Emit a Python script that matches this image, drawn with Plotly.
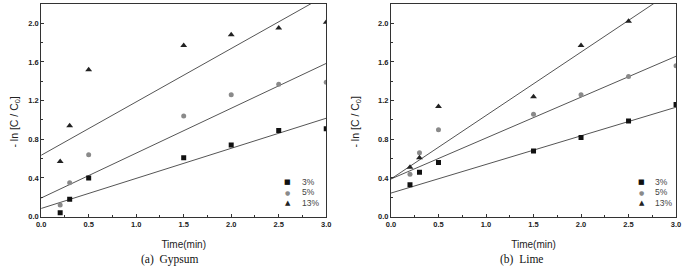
import plotly.graph_objects as go
import numpy as np

W, H = 685, 274

# ---------------- data ----------------
time_min = [0.2, 0.3, 0.5, 1.5, 2.0, 2.5, 3.0]

gyp_3 = [0.04, 0.18, 0.40, 0.61, 0.74, 0.89, 0.91]
gyp_5 = [0.12, 0.35, 0.64, 1.04, 1.26, 1.37, 1.39]
gyp_13 = [0.57, 0.94, 1.52, 1.77, 1.88, 1.95, 2.01]

lime_time_13 = [0.2, 0.3, 0.5, 1.5, 2.0, 2.5]
lime_3 = [0.33, 0.46, 0.56, 0.68, 0.82, 0.99, 1.16]
lime_5 = [0.44, 0.66, 0.90, 1.06, 1.26, 1.45, 1.56]
lime_13 = [0.51, 0.61, 1.14, 1.24, 1.77, 2.02]

# fitted lines: (intercept, slope)
gyp_fit = {"3%": (0.085, 0.311), "5%": (0.193, 0.464), "13%": (0.635, 0.552)}
lime_fit = {"3%": (0.244, 0.296), "5%": (0.39, 0.423), "13%": (0.39, 0.656)}

series_names = ["3%", "5%", "13%"]
x_ticks = [0.0, 0.5, 1.0, 1.5, 2.0, 2.5, 3.0]
y_ticks = [0.0, 0.4, 0.8, 1.2, 1.6, 2.0]
panel_captions = ["(a)  Gypsum", "(b)  Lime"]

# ---------------- style ----------------
marker_style = {
    "3%": dict(symbol="square", size=5, color="#111111"),
    "5%": dict(symbol="circle", size=5, color="#8a8a8a"),
    "13%": dict(symbol="triangle-up", size=6, color="#222222"),
}
glyph = {"3%": ("■", "#111111", 7), "5%": ("●", "#8a8a8a", 6), "13%": ("▲", "#222222", 7)}
line_col = "#555555"

fig = go.Figure()

panels = [
    ("x", "y", [time_min, time_min, time_min], [gyp_3, gyp_5, gyp_13], gyp_fit),
    ("x2", "y2", [time_min, time_min, lime_time_13], [lime_3, lime_5, lime_13], lime_fit),
]

for xa, ya, xs, ys, fits in panels:
    for name, xv, yv in zip(series_names, xs, ys):
        b0, b1 = fits[name]
        xl = np.array([0.0, 3.0])
        fig.add_trace(go.Scatter(x=xl, y=b0 + b1 * xl, mode="lines",
                                 line=dict(color=line_col, width=1),
                                 xaxis=xa, yaxis=ya, showlegend=False, hoverinfo="skip"))
    for name, xv, yv in zip(series_names, xs, ys):
        fig.add_trace(go.Scatter(x=xv, y=yv, mode="markers", name=name,
                                 marker=dict(line=dict(width=0), **marker_style[name]),
                                 xaxis=xa, yaxis=ya, showlegend=False))

def px2fx(p):
    return p / W

def px2fy(p):
    return 1 - p / H

ydom = [px2fy(220.7), px2fy(4)]
xdoms = [[px2fx(36.7), px2fx(326)], [px2fx(391.7), px2fx(681)]]

tickfont = dict(family="Arial", size=7.5, color="#222", weight="bold")
axis_common = dict(showline=True, mirror=True, linecolor="#333", linewidth=1,
                   ticks="inside", ticklen=3, tickcolor="#333", showgrid=False,
                   zeroline=False, tickfont=tickfont)

for i, xd in enumerate(xdoms):
    sfx = "" if i == 0 else str(i + 1)
    fig.layout["xaxis" + sfx] = dict(
        domain=xd, range=[0, 3], tickvals=x_ticks, tickformat=".1f",
        minor=dict(dtick=0.25, ticks="inside", ticklen=2, tickcolor="#333"),
        anchor="y" + sfx,
        title=dict(text="Time(min)", font=dict(family="Arial", size=10, color="#222"), standoff=13),
        **axis_common)
    fig.layout["yaxis" + sfx] = dict(
        domain=ydom, range=[0, 2.2], tickvals=y_ticks, tickformat=".1f",
        minor=dict(dtick=0.2, ticks="inside", ticklen=2, tickcolor="#333"),
        anchor="x" + sfx, **axis_common)

annotations = []
ytitle_x = [10, 356]
cap_x = [167, 524]
leg_mx = [287, 646]
for i in range(2):
    annotations.append(dict(text="- ln [C / C<sub>0</sub>]", textangle=-90,
                            x=px2fx(ytitle_x[i]), y=px2fy(124), xref="paper", yref="paper",
                            showarrow=False, font=dict(family="Arial", size=10.5, color="#222"),
                            xanchor="center", yanchor="middle"))
    annotations.append(dict(text=panel_captions[i], x=px2fx(cap_x[i]), y=px2fy(264.5),
                            xref="paper", yref="paper", showarrow=False,
                            font=dict(family="Liberation Serif", size=11.5, color="#111"),
                            xanchor="center", yanchor="middle"))
    for k, name in enumerate(series_names):
        ch, col, sz = glyph[name]
        yy = px2fy(185 + 11 * k)
        annotations.append(dict(text=ch, x=px2fx(leg_mx[i]), y=yy, xref="paper", yref="paper",
                                showarrow=False, font=dict(family="DejaVu Sans", size=sz, color=col),
                                xanchor="center", yanchor="middle"))
        annotations.append(dict(text=name, x=px2fx(leg_mx[i] + 12), y=yy, xref="paper", yref="paper",
                                showarrow=False, font=dict(family="Arial", size=8.5, color="#444"),
                                xanchor="left", yanchor="middle"))

fig.update_layout(width=W, height=H, margin=dict(l=0, r=0, t=0, b=0),
                  paper_bgcolor="white", plot_bgcolor="white",
                  annotations=annotations, showlegend=False)

fig.write_html("out.html")
